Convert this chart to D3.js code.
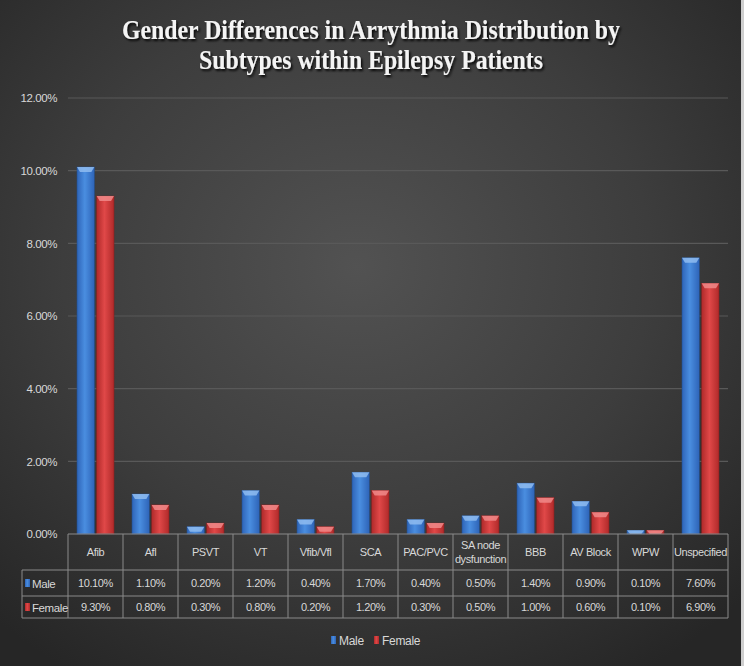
<!DOCTYPE html>
<html><head><meta charset="utf-8">
<script src="https://cdn.jsdelivr.net/npm/d3@7"></script>
<style>html,body{margin:0;padding:0;background:#2b2b2b;}svg{display:block;}</style>
</head><body>
<svg id="chart" width="744" height="666"></svg>
<script>
const categories = ["Afib","Afl","PSVT","VT","Vfib/Vfl","SCA","PAC/PVC","SA node dysfunction","BBB","AV Block","WPW","Unspecified"];
const categoryLines = [["Afib"],["Afl"],["PSVT"],["VT"],["Vfib/Vfl"],["SCA"],["PAC/PVC"],["SA node","dysfunction"],["BBB"],["AV Block"],["WPW"],["Unspecified"]];
const male = [10.1,1.1,0.2,1.2,0.4,1.7,0.4,0.5,1.4,0.9,0.1,7.6];
const female = [9.3,0.8,0.3,0.8,0.2,1.2,0.3,0.5,1.0,0.6,0.1,6.9];
const seriesNames = ["Male","Female"];
const yTicks = [0,2,4,6,8,10,12];
const titleLines = ["Gender Differences in Arrythmia Distribution by","Subtypes within Epilepsy Patients"];

const svg = d3.select("#chart");
const W = 744, H = 666;
const defs = svg.append("defs");

const bg = defs.append("radialGradient").attr("id","bg").attr("cx","48%").attr("cy","40%").attr("r","72%");
bg.append("stop").attr("offset","0%").attr("stop-color","#525252");
bg.append("stop").attr("offset","55%").attr("stop-color","#3d3d3d");
bg.append("stop").attr("offset","100%").attr("stop-color","#262626");
svg.append("rect").attr("width",W).attr("height",H).attr("fill","url(#bg)");
svg.append("rect").attr("x",W-3).attr("y",0).attr("width",3).attr("height",H).attr("fill","#cfcfcf");

const colors = {Male:["#2e64b8","#4a8ee0","#2e64b8","#8fbcf0"], Female:["#b02a2a","#e04848","#b02a2a","#f08a8a"]};
seriesNames.forEach(s=>{
  const g = defs.append("linearGradient").attr("id","g"+s).attr("x1","0").attr("x2","1").attr("y1","0").attr("y2","0");
  g.append("stop").attr("offset","0%").attr("stop-color",colors[s][0]);
  g.append("stop").attr("offset","45%").attr("stop-color",colors[s][1]);
  g.append("stop").attr("offset","100%").attr("stop-color",colors[s][2]);
});
const sh = defs.append("filter").attr("id","tshadow").attr("x","-10%").attr("y","-30%").attr("width","120%").attr("height","160%");
sh.append("feDropShadow").attr("dx",1.5).attr("dy",2).attr("stdDeviation",1.2).attr("flood-color","#000").attr("flood-opacity",0.9);

const tl = [{t:titleLines[0],y:38.5,w:498},{t:titleLines[1],y:69,w:344}];
tl.forEach(d=>{
  svg.append("text").attr("x",371).attr("y",d.y).attr("text-anchor","middle")
    .attr("font-family","Liberation Serif, DejaVu Serif, serif").attr("font-weight","bold")
    .attr("font-size",26.5).attr("fill","#f4f4f4").attr("filter","url(#tshadow)")
    .attr("textLength",d.w).attr("lengthAdjust","spacingAndGlyphs").text(d.t);
});

const pLeft = 68, pRight = 728, pTop = 98, pBottom = 534;
const y = d3.scaleLinear().domain([0,12]).range([pBottom, pTop]);
const x0 = d3.scaleBand().domain(categories).range([pLeft, pRight]).padding(0);
const x1 = d3.scaleBand().domain(seriesNames).range([9, x0.bandwidth()-9]).paddingInner(0.12);

svg.append("g").selectAll("line").data(yTicks.filter(t=>t>0)).join("line")
  .attr("x1",pLeft).attr("x2",pRight).attr("y1",d=>y(d)).attr("y2",d=>y(d))
  .attr("stroke","#595959").attr("stroke-width",1.2);

const font = "Liberation Sans, Arial, sans-serif";
const yAxis = d3.axisLeft(y).tickValues(yTicks).tickSize(0).tickPadding(0).tickFormat(d=>d.toFixed(2)+"%");
const ya = svg.append("g").attr("transform",`translate(57,0)`).call(yAxis);
ya.select(".domain").remove();
ya.selectAll("text").attr("fill","#d8d8d8").attr("font-family",font).attr("font-size",11.5).attr("letter-spacing","-0.4");

const data = categories.map((c,i)=>({c, vals:[{s:"Male",v:male[i]},{s:"Female",v:female[i]}]}));
const gcat = svg.append("g").selectAll("g").data(data).join("g").attr("transform",d=>`translate(${x0(d.c)},0)`);
gcat.selectAll("rect.bar").data(d=>d.vals).join("rect").attr("class","bar")
  .attr("x",d=>x1(d.s)).attr("width",x1.bandwidth())
  .attr("y",d=>y(d.v)).attr("height",d=>pBottom-y(d.v))
  .attr("fill",d=>`url(#g${d.s})`).attr("stroke",d=>d.s==="Male"?"#24508f":"#8a2020").attr("stroke-width",0.6);
gcat.selectAll("path.cap").data(d=>d.vals).join("path").attr("class","cap")
  .attr("d",d=>{const xa=x1(d.s), w=x1.bandwidth(), yt=y(d.v), h=Math.min(5,pBottom-yt);
    return `M${xa},${yt}L${xa+w},${yt}L${xa+w-3},${yt+h}L${xa+3},${yt+h}Z`;})
  .attr("fill",d=>colors[d.s][3]).attr("opacity",0.85);

const tcol = "#8a8a8a";
const rowTop = pBottom, r1 = 570, r2 = 596, r3 = 618, labelLeft = 22;
const tg = svg.append("g").attr("stroke",tcol).attr("stroke-width",1).attr("fill","none");
tg.append("line").attr("x1",pLeft).attr("x2",pRight).attr("y1",rowTop).attr("y2",rowTop);
[r1,r2,r3].forEach(yy=>tg.append("line").attr("x1",labelLeft).attr("x2",pRight).attr("y1",yy).attr("y2",yy));
tg.append("line").attr("x1",labelLeft).attr("x2",labelLeft).attr("y1",r1).attr("y2",r3);
const vx = categories.map(c=>x0(c)).concat([pRight]);
tg.selectAll("line.v").data(vx).join("line").attr("class","v")
  .attr("x1",d=>d).attr("x2",d=>d).attr("y1",rowTop).attr("y2",r3);

svg.append("g").selectAll("text").data(categories).join("text")
  .attr("x",d=>x0(d)+x0.bandwidth()/2).attr("y",(d,i)=>categoryLines[i].length>1? 549 : 556)
  .attr("text-anchor","middle").attr("fill","#d8d8d8").attr("font-family",font).attr("font-size",11).attr("letter-spacing","-0.4")
  .each(function(d,i){
    const t = d3.select(this);
    categoryLines[i].forEach((ln,j)=>t.append("tspan").attr("x",x0(d)+x0.bandwidth()/2).attr("dy",j?14:0).text(ln));
  });
const rows = [{s:"Male",vals:male,y:(r1+r2)/2},{s:"Female",vals:female,y:(r2+r3)/2}];
rows.forEach(r=>{
  svg.append("rect").attr("x",25).attr("y",r.y-4).attr("width",5).attr("height",8).attr("fill",`url(#g${r.s})`);
  svg.append("text").attr("x",32).attr("y",r.y+4.5).attr("fill","#d8d8d8").attr("font-family",font).attr("font-size",11.5).attr("letter-spacing","-0.4").text(r.s);
  svg.append("g").selectAll("text").data(r.vals).join("text")
    .attr("x",(d,i)=>x0(categories[i])+x0.bandwidth()/2).attr("y",r.y+4)
    .attr("text-anchor","middle").attr("fill","#d8d8d8").attr("font-family",font).attr("font-size",11).attr("letter-spacing","-0.4")
    .text(d=>d.toFixed(2)+"%");
});

const legend = [{s:"Male",x:331},{s:"Female",x:374}];
legend.forEach(l=>{
  svg.append("rect").attr("x",l.x).attr("y",636).attr("width",5).attr("height",8).attr("fill",`url(#g${l.s})`);
  svg.append("text").attr("x",l.x+8).attr("y",644.5).attr("fill","#d8d8d8").attr("font-family",font).attr("font-size",12).attr("letter-spacing","-0.3").text(l.s);
});
</script>
</body></html>
